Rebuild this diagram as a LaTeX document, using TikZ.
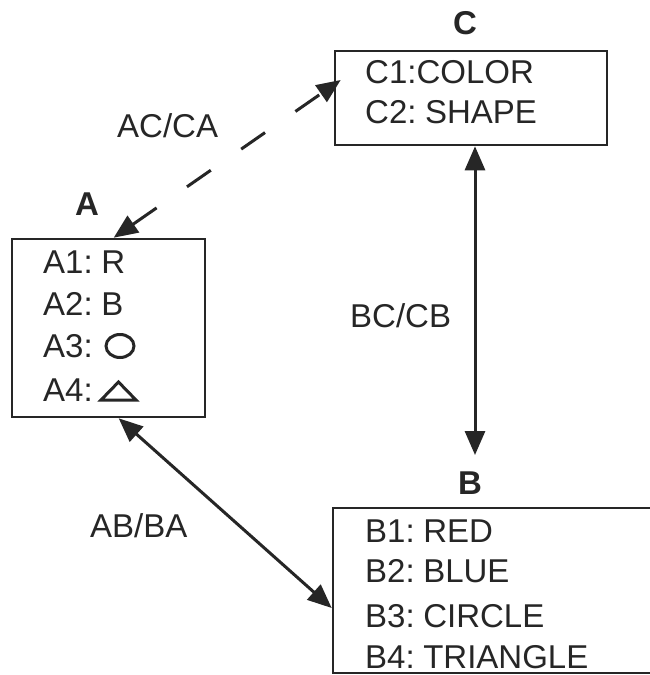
\documentclass[tikz,border=0pt]{standalone}
\usepackage{fontspec}
\setmainfont[WordSpace=0.6]{Liberation Sans}
\usetikzlibrary{arrows.meta}
\begin{document}
\begin{tikzpicture}[x=1pt,y=-1pt,
  box/.style={draw=black!85, line width=2.6pt, inner sep=0pt},
  txt/.style={anchor=base west, inner sep=0pt, text=black!85, font=\fontsize{33}{38}\selectfont},
  ttl/.style={inner sep=0pt, text=black!85, font=\fontsize{33}{38}\selectfont\bfseries},
  sym/.style={draw=black!85, line width=3pt},
  link/.style={draw=black!85, line width=3pt, {Triangle[length=24pt,width=20pt]}-{Triangle[length=24pt,width=20pt]}},
]
\clip (0,0) rectangle (650,675);
\fill[white] (0,0) rectangle (650,675);

% boxes
\node[box, minimum width=193pt, minimum height=178pt] (Abox) at (108.5,328) {};
\node[box, minimum width=272pt, minimum height=94pt] (Cbox) at (471,98) {};
\node[box, minimum width=367pt, minimum height=165pt] (Bbox) at (516.5,590.5) {};

% titles
\node[ttl] (Atitle) at (87,204) {A};
\node[ttl] (Ctitle) at (465,23) {C};
\node[ttl] (Btitle) at (470,483) {B};

% A contents
\node[txt] (A1) at (43,273) {A1: R};
\node[txt] (A2) at (43,315) {A2: B};
\node[txt] (A3) at (43,357) {A3:};
\node[txt] (A4) at (43,401) {A4:};
\draw[sym] (120,346) ellipse [x radius=14pt, y radius=11.5pt];
\draw[sym, line join=miter] (101,400) -- (118.5,382) -- (136,400) -- cycle;

% C contents
\node[txt] (C1) at (365,83) {C1:COLOR};
\node[txt] (C2) at (365,123) {C2: SHAPE};

% B contents
\node[txt] (B1) at (365,542) {B1: RED};
\node[txt] (B2) at (365,582) {B2: BLUE};
\node[txt] (B3) at (365,627) {B3: CIRCLE};
\node[txt] (B4) at (365,668) {B4: TRIANGLE};

% connector labels
\node[txt] (ACl) at (117,137) {AC/CA};
\node[txt] (BCl) at (350,327) {BC/CB};
\node[txt] (ABl) at (90,537) {AB/BA};

% connectors
\coordinate (acA) at ([xshift=103pt]Abox.north west);
\coordinate (acC) at ([xshift=7pt,yshift=18pt]Cbox.west);
\draw[link, dash pattern=on 29pt off 37pt] (acA) -- (acC);

\coordinate (bcC) at ([xshift=4pt]Cbox.south);
\coordinate (bcB) at (475,455);
\draw[link] (bcC) -- (bcB);

\coordinate (abA) at ([xshift=108pt]Abox.south west);
\coordinate (abB) at ([yshift=-17.5pt]Bbox.west);
\draw[link] (abA) -- (abB);
\end{tikzpicture}
\end{document}
